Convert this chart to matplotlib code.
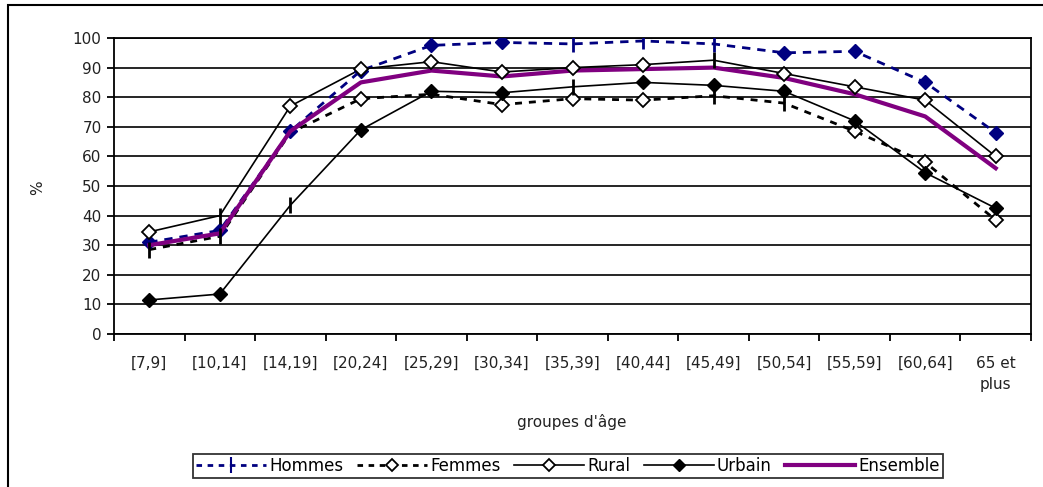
import matplotlib.pyplot as plt
from matplotlib.lines import Line2D
from matplotlib.patches import Rectangle

plt.rcParams['font.family'] = ['DejaVu Sans']

# Data
groupes = ['[7,9]', '[10,14]', '[14,19]', '[20,24]', '[25,29]', '[30,34]', '[35,39]',
           '[40,44]', '[45,49]', '[50,54]', '[55,59]', '[60,64]', '65 et\nplus']
hommes = [31, 35, 68.5, 89, 97.5, 98.5, 98, 99, 98, 95, 95.5, 85, 68]
femmes = [28.5, 33, 68, 79.5, 81, 77.5, 79.5, 79, 80.5, 78, 68.5, 58, 38.5]
rural = [34.5, 40, 77, 89.5, 92, 88.5, 90, 91, 92.5, 88, 83.5, 79, 60]
urbain = [11.5, 13.5, 43.5, 69, 82, 81.5, 83.5, 85, 84, 82, 72, 54.5, 42.5]
ensemble = [30, 34, 68.5, 85, 89, 87, 89, 89.5, 90, 86.5, 81, 73.5, 56]

navy = '#000080'
purple = '#800080'
txt = '#222222'
fs = 11

fig = plt.figure(figsize=(10.43, 4.87), dpi=100)
ax = fig.add_axes([114 / 1043, 1 - 334 / 487, 917 / 1043, 296 / 487])

x = list(range(len(groupes)))

# Hommes: dashed navy, some points drawn as diamonds, others as bars
ax.plot(x, hommes, color=navy, lw=2, dashes=(3, 2.5), zorder=3)
ax.plot(x, hommes, ls='none', marker='D', ms=7, color=navy,
        markevery=[0, 1, 2, 3, 4, 5, 9, 10, 11, 12], zorder=4)
ax.plot(x, hommes, ls='none', marker='|', ms=12, mew=2, color=navy,
        markevery=[6, 7, 8], zorder=4)

# Femmes: dashed black, open diamonds
ax.plot(x, femmes, color='black', lw=2, dashes=(2.5, 2.5), zorder=3)
ax.plot(x, femmes, ls='none', marker='D', ms=7, mfc='white', mec='black', mew=1.3,
        markevery=[3, 5, 6, 7, 10, 11, 12], zorder=5)
ax.plot(x, femmes, ls='none', marker='|', ms=12, mew=2, color='black',
        markevery=[0, 1, 8, 9], zorder=5)

# Rural: solid black, open diamonds
ax.plot(x, rural, color='black', lw=1.2, zorder=3)
ax.plot(x, rural, ls='none', marker='D', ms=7, mfc='white', mec='black', mew=1.3,
        markevery=[0, 2, 3, 4, 5, 6, 7, 9, 10, 11, 12], zorder=5)
ax.plot(x, rural, ls='none', marker='|', ms=12, mew=2, color='black',
        markevery=[1, 8], zorder=5)

# Urbain: solid black, filled diamonds
ax.plot(x, urbain, color='black', lw=1.2, zorder=3)
ax.plot(x, urbain, ls='none', marker='D', ms=7, color='black',
        markevery=[0, 1, 3, 4, 5, 7, 8, 9, 10, 11, 12], zorder=5)
ax.plot(x, urbain, ls='none', marker='|', ms=12, mew=2, color='black',
        markevery=[2, 6], zorder=5)

# Ensemble
ax.plot(x, ensemble, color=purple, lw=3, zorder=4)

ax.set_xlim(-0.5, len(groupes) - 0.5)
ax.set_ylim(0, 100)
ax.set_yticks(range(0, 101, 10))
ax.yaxis.grid(True, color='black', lw=1.2)
ax.set_axisbelow(True)
ax.set_xticks(x)
ax.set_xticklabels(groupes, fontsize=fs, color=txt, linespacing=1.5)
ax.set_xticks([i - 0.5 for i in range(len(groupes) + 1)], minor=True)
ax.tick_params(axis='x', which='major', length=0, pad=16)
ax.tick_params(axis='x', which='minor', length=5, width=1.3, direction='out')
ax.tick_params(axis='y', length=5, width=1.3, direction='out', labelsize=fs,
               labelcolor=txt, pad=4)
for s in ax.spines.values():
    s.set_linewidth(1.3)

fig.text(572 / 1043, 1 - 422 / 487, "groupes d'âge", ha='center', va='center',
         fontsize=fs, color=txt)
fig.text(38 / 1043, 1 - 188 / 487, '%', ha='center', va='center', rotation=90,
         fontsize=fs, color=txt)

handles = [
    Line2D([], [], color=navy, lw=2, dashes=(2, 2), marker='|', ms=12, mew=1.5),
    Line2D([], [], color='black', lw=2, dashes=(2, 2), marker='D', ms=6,
           mfc='white', mec='black', mew=1.3),
    Line2D([], [], color='black', lw=1.2, marker='D', ms=6, mfc='white', mec='black',
           mew=1.3),
    Line2D([], [], color='black', lw=1.2, marker='D', ms=6),
    Line2D([], [], color=purple, lw=3),
]
labels = ['Hommes', 'Femmes', 'Rural', 'Urbain', 'Ensemble']
leg = fig.legend(handles, labels, loc='center', bbox_to_anchor=(568 / 1043, 1 - 466 / 487),
                 ncol=5, fontsize=12, frameon=True, fancybox=False, handlelength=4.2,
                 handletextpad=0.2, columnspacing=0.8, borderpad=0.2, borderaxespad=0)
leg.get_frame().set_edgecolor('black')
leg.get_frame().set_linewidth(1.3)

# outer chart border (right and bottom edges fall outside the picture)
fig.patches.append(Rectangle((8 / 1043, -0.1), 1.2, 1 - 5 / 487 + 0.1,
                             transform=fig.transFigure, fill=False, ec='black', lw=1.5))

fig.savefig('out.png', dpi=100)
